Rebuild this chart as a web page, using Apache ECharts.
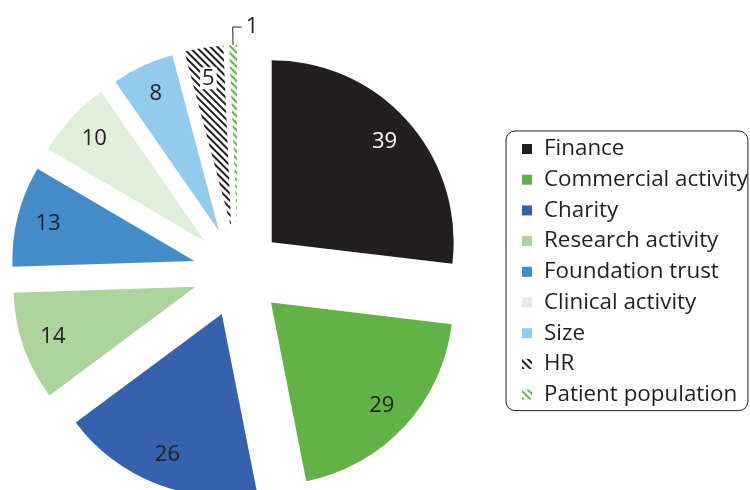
<!DOCTYPE html>
<html>
<head>
<meta charset="utf-8">
<script src="https://cdn.jsdelivr.net/npm/echarts@6/dist/echarts.min.js"></script>
<style>
  html, body { margin: 0; padding: 0; background: #fff; }
  #chart { width: 750px; height: 490px; }
</style>
</head>
<body>
<div id="chart"></div>
<script>
const categories = ['Finance', 'Commercial activity', 'Charity', 'Research activity',
  'Foundation trust', 'Clinical activity', 'Size', 'HR', 'Patient population']
const values = [39, 29, 26, 14, 13, 10, 8, 5, 1]
const colors = ['#231f20', '#62b346', '#3561ad', '#acd49c', '#438bc9', '#e0efd9', '#92cbed', '#ffffff', '#ffffff']
// hatched slices: stripe colour, null for plain fills
const stripes = [null, null, null, null, null, null, null, '#231f20', '#62b346']

const font = 'Open Sans'
const center = [238, 272]
const offset = 45

const chart = echarts.init(document.getElementById('chart'))

function stripeDecal(c) {
  return {
    symbol: 'rect',
    color: c,
    dashArrayX: [1, 0],
    dashArrayY: [2, 2.5],
    rotation: Math.PI / 4
  }
}

const pieData = categories.map((name, i) => {
  const item = {
    name: name,
    value: values[i],
    selected: true,
    itemStyle: { color: colors[i] }
  }
  if (stripes[i]) item.itemStyle.decal = stripeDecal(stripes[i])
  return item
})

const labelData = categories.map((name, i) => {
  const item = { name: name, value: values[i], selected: true }
  if (i === 0) item.label = { color: '#ffffff', offset: [-2, 6] }
  if (stripes[i] && values[i] >= 3) {
    item.label = { backgroundColor: '#ffffff', padding: [0, 2], offset: [0, -9] }
  }
  if (values[i] < 3) {
    item.label = { position: 'outside' }
    item.labelLine = { show: true }
  }
  return item
})

const option = {
  animation: false,
  legend: {
    orient: 'vertical',
    left: 506,
    top: 131,
    data: categories,
    icon: 'rect',
    itemWidth: 10,
    itemHeight: 10,
    itemGap: 8.7,
    padding: [7, 0, 5, 16],
    borderColor: '#231f20',
    borderWidth: 1,
    borderRadius: 9,
    textStyle: { fontFamily: font, fontSize: 22.4, color: '#231f20', lineHeight: 22, padding: [0, 0, 0, 7] }
  },
  series: [
    {
      type: 'pie',
      center: center,
      radius: 182,
      startAngle: 90,
      clockwise: true,
      selectedMode: 'multiple',
      selectedOffset: offset,
      label: { show: false },
      labelLine: { show: false },
      emphasis: { disabled: true },
      data: pieData
    },
    {
      // transparent ring used only to place the value labels further out
      type: 'pie',
      silent: true,
      center: center,
      radius: [114, 182],
      startAngle: 90,
      clockwise: true,
      selectedMode: 'multiple',
      selectedOffset: offset,
      itemStyle: { color: 'rgba(0,0,0,0)' },
      emphasis: { disabled: true },
      label: {
        show: true,
        position: 'inside',
        formatter: '{c}',
        fontFamily: font,
        fontSize: 22,
        color: '#231f20'
      },
      labelLine: {
        show: false,
        length: 18,
        length2: 9,
        lineStyle: { color: '#231f20', width: 1 }
      },
      labelLayout: function (params) {
        if (params.dataIndex !== 8 || !params.labelLinePoints) return {}
        const pts = params.labelLinePoints
        const p2 = [pts[1][0] + Math.abs(pts[2][0] - pts[1][0]), pts[1][1]]
        return {
          dx: p2[0] + 4 - params.labelRect.x,
          labelLinePoints: [pts[0], pts[1], p2]
        }
      },
      data: labelData
    }
  ]
}

chart.setOption(option)
</script>
</body>
</html>
